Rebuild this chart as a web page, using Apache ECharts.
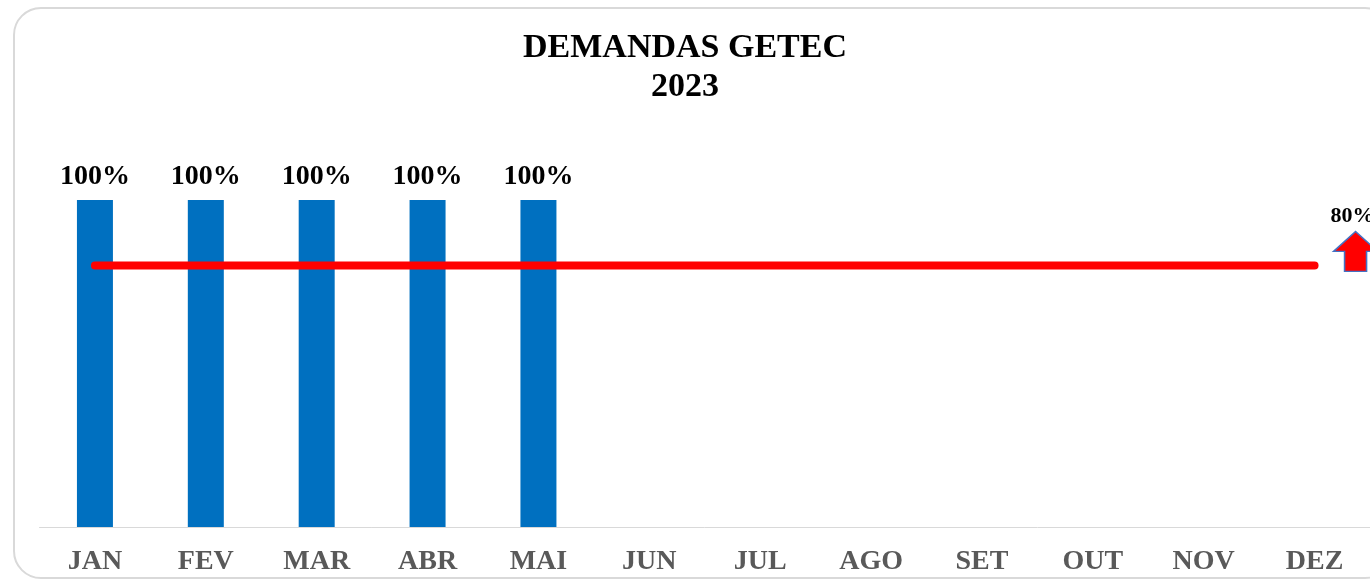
<!DOCTYPE html>
<html>
  <head>
    <meta charset="UTF-8">
    <title>Demandas GETEC 2023</title>
    <script src="https://cdn.jsdelivr.net/npm/echarts@6/dist/echarts.min.js"></script>
    <style>
    * {
      margin: 0;
      padding: 0;
    }
    body {
      background: #fff;
      overflow: hidden;
    }
    #frame {
      position: absolute;
      left: 13px;
      top: 7px;
      width: 1380px;
      height: 572px;
      border: 2px solid #d9d9d9;
      border-radius: 28px;
      box-sizing: border-box;
    }
    </style>
  </head>
  <body>
    <div id="frame"></div>
    <div id="main" style="position: absolute; left: 0; top: 0; width: 1370px; height: 586px"></div>

    <script>
var months = ['JAN', 'FEV', 'MAR', 'ABR', 'MAI', 'JUN', 'JUL', 'AGO', 'SET', 'OUT', 'NOV', 'DEZ']
var realizado = [1, 1, 1, 1, 1, null, null, null, null, null, null, null]
var meta = [0.8, 0.8, 0.8, 0.8, 0.8, 0.8, 0.8, 0.8, 0.8, 0.8, 0.8, 0.8]

var serif = '"Liberation Serif", "DejaVu Serif", serif'
// seta para cima (meta: quanto maior, melhor)
var arrow = 'path://M22,0 L44,20 L33,20 L33,40 L11,40 L11,20 L0,20 Z'

var myChart = echarts.init(document.getElementById('main'))
myChart.setOption({
  animation: false,
  title: {
    text: 'DEMANDAS GETEC\n2023',
    left: 'center',
    top: 24,
    textStyle: {
      fontFamily: serif,
      fontWeight: 'bold',
      fontSize: 34,
      lineHeight: 39,
      color: '#000'
    }
  },
  grid: {
    left: 39.5,
    right: -2,
    top: 200,
    bottom: 59
  },
  xAxis: {
    type: 'category',
    data: months,
    axisTick: { show: false },
    axisLine: { lineStyle: { color: '#d9d9d9', width: 1 } },
    axisLabel: {
      margin: 21,
      fontFamily: serif,
      fontWeight: 'bold',
      fontSize: 28,
      color: '#595959'
    }
  },
  yAxis: {
    type: 'value',
    min: 0,
    max: 1,
    show: false,
    splitLine: { show: false }
  },
  series: [{
    type: 'bar',
    data: realizado,
    barWidth: 36,
    itemStyle: { color: '#0070c0' },
    label: {
      show: true,
      position: 'top',
      distance: 9,
      formatter: function (p) { return Math.round(p.value * 100) + '%' },
      fontFamily: serif,
      fontWeight: 'bold',
      fontSize: 28,
      color: '#000'
    }
  }, {
    type: 'line',
    data: meta,
    symbol: 'none',
    lineStyle: { color: '#ff0000', width: 8, cap: 'round' },
    markPoint: {
      symbol: arrow,
      symbolSize: [44, 40],
      symbolKeepAspect: false,
      symbolOffset: [41, -14],
      itemStyle: { color: '#ff0000', borderColor: '#4472c4', borderWidth: 1.5 },
      label: {
        show: true,
        position: 'top',
        distance: 3,
        offset: [-3, 0],
        formatter: function (p) { return Math.round(p.value * 100) + '%' },
        fontFamily: serif,
        fontWeight: 'bold',
        fontSize: 22,
        color: '#000'
      },
      data: [{ coord: ['DEZ', meta[11]], value: meta[11] }]
    }
  }]
})
    </script>
  </body>
</html>
